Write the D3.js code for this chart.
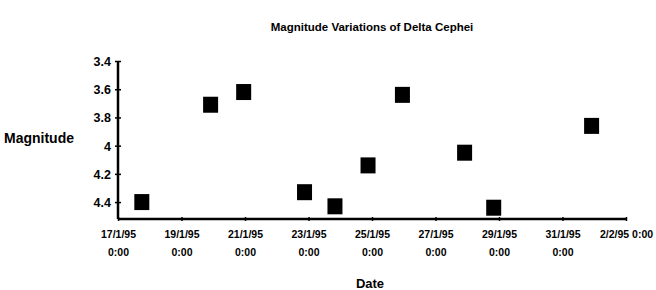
<!DOCTYPE html>
<html>
<head>
<meta charset="utf-8">
<script src="https://cdn.jsdelivr.net/npm/d3@7"></script>
<style>
  body { margin: 0; background: #fff; }
  #chart text { font-family: "Liberation Sans", Arial, sans-serif; font-weight: bold; fill: #000; }
</style>
</head>
<body>
<div id="chart"></div>
<script>
// observation times (day of Jan/Feb 1995, hour) and magnitudes
const obsDates = [
  "1995-01-17T18:00", "1995-01-19T22:00", "1995-01-20T23:00", "1995-01-22T21:00",
  "1995-01-23T20:00", "1995-01-24T21:00", "1995-01-25T23:00", "1995-01-27T22:00",
  "1995-01-28T20:00", "1995-01-31T22:00"
];
const magnitudes = [4.40, 3.71, 3.62, 4.33, 4.43, 4.14, 3.64, 4.05, 4.44, 3.86];
const yTicks = [3.4, 3.6, 3.8, 4, 4.2, 4.4];
const xTickDates = [
  "1995-01-17", "1995-01-19", "1995-01-21", "1995-01-23", "1995-01-25",
  "1995-01-27", "1995-01-29", "1995-01-31", "1995-02-02"
];
const xTickLabels = [
  ["17/1/95", "0:00"], ["19/1/95", "0:00"], ["21/1/95", "0:00"], ["23/1/95", "0:00"],
  ["25/1/95", "0:00"], ["27/1/95", "0:00"], ["29/1/95", "0:00"], ["31/1/95", "0:00"],
  ["2/2/95 0:00"]
];

const width = 656, height = 290;
const margin = {top: 61, right: 30, bottom: 71, left: 118};

const parse = d3.timeParse("%Y-%m-%dT%H:%M");
const parseDay = d3.timeParse("%Y-%m-%d");
const data = obsDates.map((d, i) => ({date: parse(d), mag: magnitudes[i]}));
const tickDates = xTickDates.map(parseDay);

const svg = d3.select("#chart").append("svg")
  .attr("width", width)
  .attr("height", height);

const x = d3.scaleTime()
  .domain([tickDates[0], tickDates[tickDates.length - 1]])
  .range([margin.left, 626]);

const y = d3.scaleLinear()
  .domain([3.4, 4.52])
  .range([margin.top, height - margin.bottom]);

// title
svg.append("text")
  .attr("x", 372).attr("y", 31)
  .attr("text-anchor", "middle")
  .style("font-size", "11.5px")
  .text("Magnitude Variations of Delta Cephei");

// y axis
const yAxis = svg.append("g")
  .attr("transform", `translate(${margin.left},0)`)
  .call(d3.axisLeft(y).tickValues(yTicks).tickSize(3).tickPadding(4).tickFormat(d3.format("")));
yAxis.select(".domain").attr("d", `M0,${y(3.4)}V${y(4.52)}`).attr("stroke-width", 2.5);
yAxis.selectAll(".tick line").attr("x2", 3).attr("x1", -3).attr("stroke-width", 1.5);
yAxis.selectAll(".tick text").style("font-size", "12.5px").attr("dy", "0.35em");

// x axis
const xAxis = svg.append("g")
  .attr("transform", `translate(0,${y(4.52)})`)
  .call(d3.axisBottom(x).tickValues(tickDates).tickSize(3).tickFormat(""));
xAxis.select(".domain").attr("d", `M${x.range()[0]},0H${x.range()[1]}`).attr("stroke-width", 2.5);
xAxis.selectAll(".tick line").attr("y1", -2).attr("y2", 2).attr("stroke-width", 1.5);
xAxis.selectAll(".tick").each(function (d, i) {
  const t = d3.select(this).append("text")
    .attr("text-anchor", "middle")
    .style("font-size", "10.5px");
  xTickLabels[i].forEach((line, j) => {
    t.append("tspan").attr("x", 0).attr("y", 19 + j * 18).text(line);
  });
});

// axis titles
svg.append("text")
  .attr("x", 4).attr("y", 143)
  .style("font-size", "14px")
  .text("Magnitude");

svg.append("text")
  .attr("x", 370).attr("y", 288)
  .attr("text-anchor", "middle")
  .style("font-size", "13px")
  .text("Date");

// square markers
const s = 15;
svg.selectAll("rect.pt")
  .data(data)
  .enter()
  .append("rect")
    .attr("class", "pt")
    .attr("x", d => x(d.date) - s / 2)
    .attr("y", d => y(d.mag) - 8)
    .attr("width", s)
    .attr("height", 16)
    .attr("fill", "#000");
</script>
</body>
</html>
